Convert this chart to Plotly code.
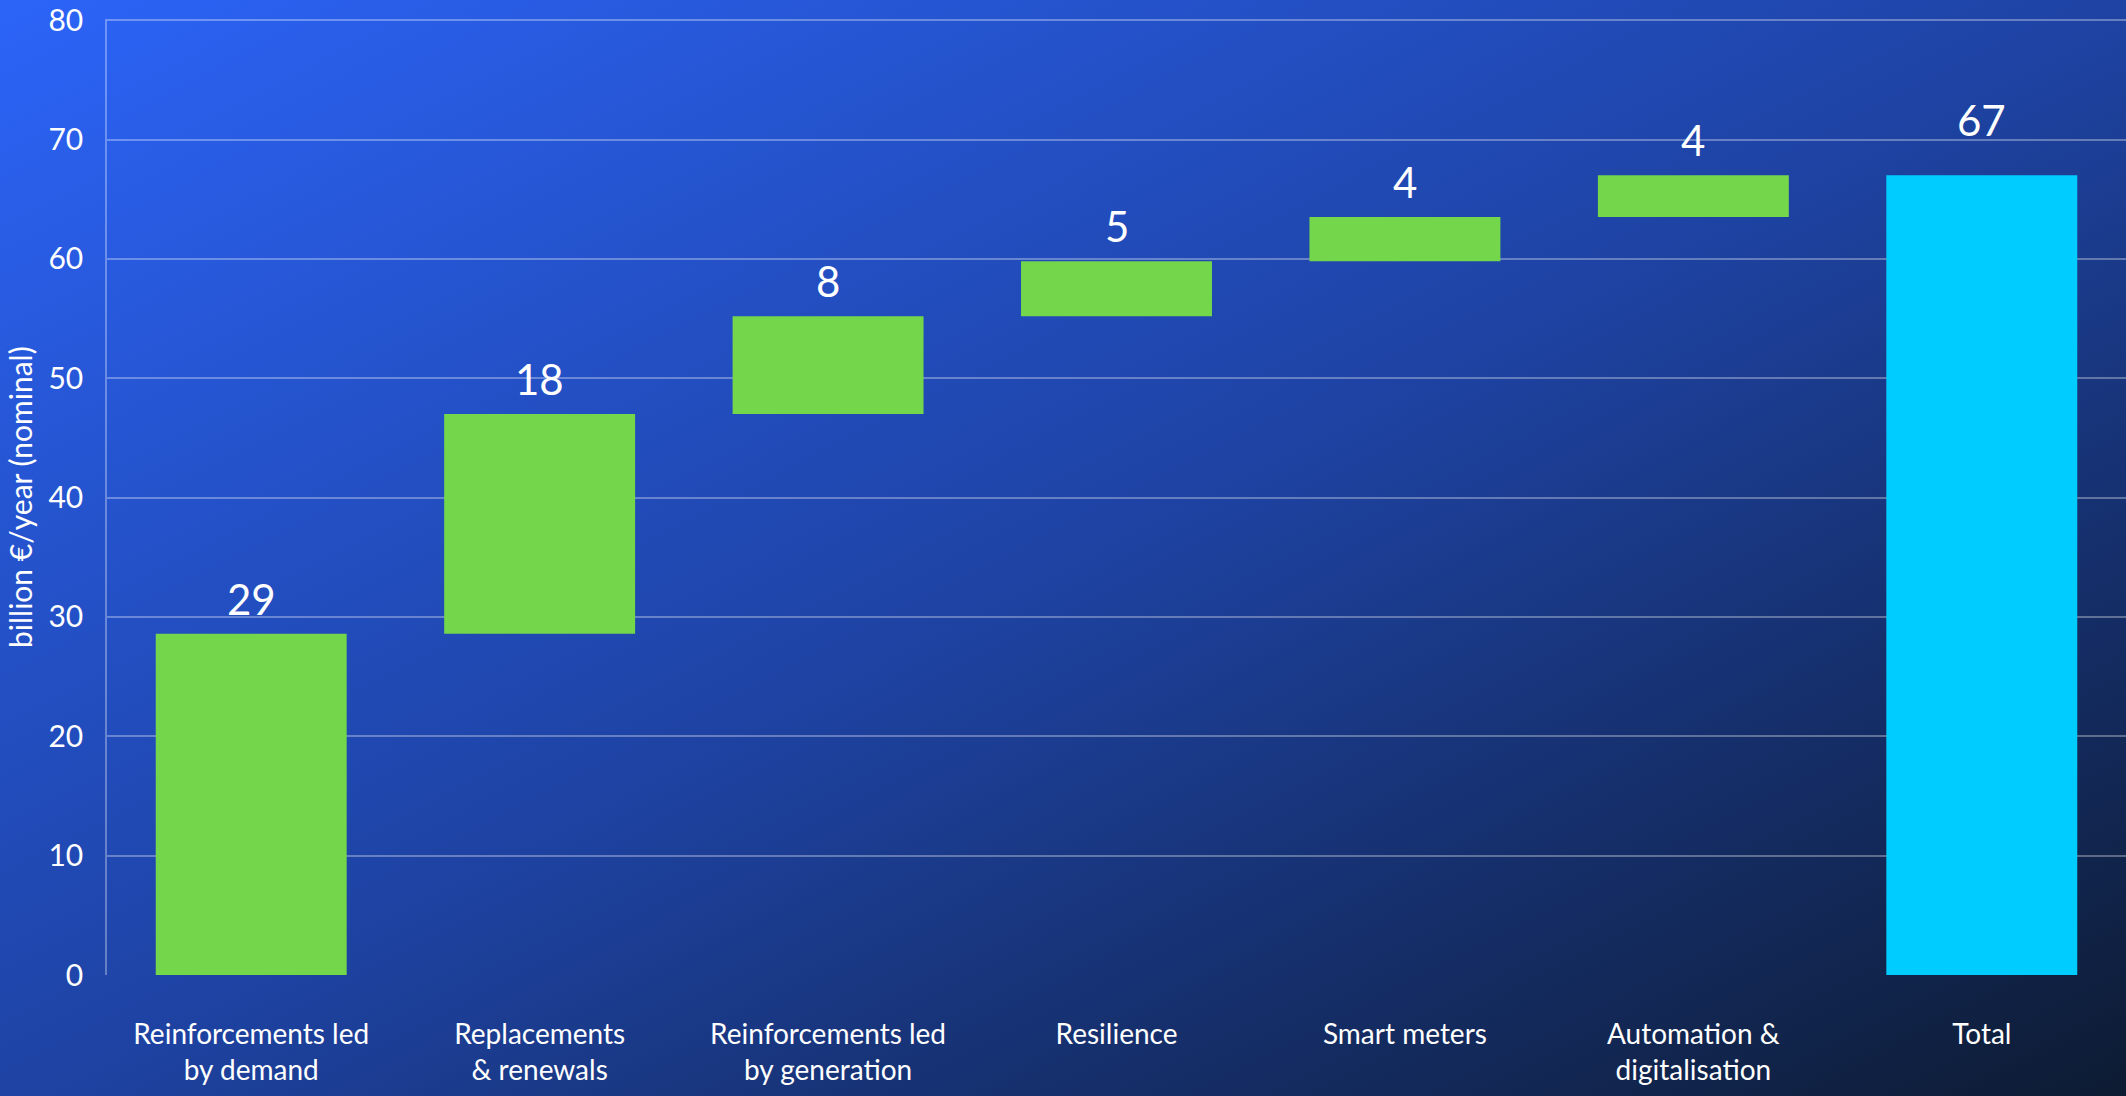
import base64
import numpy as np
import plotly.graph_objects as go

# Annual distribution-grid investment need, billion EUR per year (nominal)
categories = [
    "Reinforcements led<br>by demand",
    "Replacements<br>& renewals",
    "Reinforcements led<br>by generation",
    "Resilience",
    "Smart meters",
    "Automation &<br>digitalisation",
    "Total",
]
increments = [28.6, 18.4, 8.2, 4.6, 3.7, 3.5]
y_ticks = [0, 10, 20, 30, 40, 50, 60, 70, 80]

W, H = 2126, 1096
M_L, M_R, M_T, M_B = 107, 0, 19, 121
PW, PH = W - M_L - M_R, H - M_T - M_B
Y_MAX = 80.1

FONT = "Lato"
GREEN = "#73D64B"
CYAN = "#00CCFF"
GRID = "rgba(255,255,255,0.32)"

# diagonal background gradient as an inline SVG image
svg = (
    f"<svg xmlns='http://www.w3.org/2000/svg' width='{W}' height='{H}' "
    f"viewBox='0 0 {W} {H}' preserveAspectRatio='none'>"
    "<defs><linearGradient id='g' x1='0' y1='0' x2='1' y2='1'>"
    "<stop offset='0' stop-color='#2c64f8'/>"
    "<stop offset='0.5' stop-color='#1e43a4'/>"
    "<stop offset='1' stop-color='#0d1b32'/>"
    "</linearGradient></defs>"
    f"<rect width='{W}' height='{H}' fill='url(#g)'/></svg>"
)
bg_src = "data:image/svg+xml;base64," + base64.b64encode(svg.encode()).decode()

measures = ["relative"] * len(increments) + ["total"]
values = increments + [0]
tops = list(np.cumsum(increments))
total = tops[-1]

fig = go.Figure()
fig.add_trace(go.Waterfall(
    x=categories,
    y=values,
    measure=measures,
    increasing=dict(marker=dict(color=GREEN, line=dict(width=0))),
    totals=dict(marker=dict(color=CYAN, line=dict(width=0))),
    connector=dict(visible=False),
    textposition="none",
    hoverinfo="skip",
))

# value labels above each bar
label_tops = tops + [total]
label_vals = increments + [total]
for i, (cat, top, val) in enumerate(zip(categories, label_tops, label_vals)):
    fig.add_annotation(
        x=cat, y=top, xref="x", yref="y",
        text=f"{val:.0f}", showarrow=False,
        yanchor="bottom", yshift=8 if i < len(categories) - 1 else 28,
        font=dict(family=FONT, size=42, color="white"),
    )

# y-axis title
fig.add_annotation(
    x=-(M_L - 20) / PW, y=0.5, xref="paper", yref="paper",
    text="billion €/year (nominal)", textangle=-90, showarrow=False,
    xanchor="center", yanchor="middle",
    font=dict(family=FONT, size=30, color="white"),
)

fig.add_layout_image(
    source=bg_src, xref="paper", yref="paper",
    x=-M_L / PW, y=1 + M_T / PH, sizex=W / PW, sizey=H / PH,
    xanchor="left", yanchor="top", sizing="stretch", layer="below",
)

fig.update_layout(
    width=W, height=H,
    margin=dict(l=M_L, r=M_R, t=M_T, b=M_B, pad=0),
    paper_bgcolor="#1e43a4",
    plot_bgcolor="rgba(0,0,0,0)",
    showlegend=False,
    waterfallgap=0.338,
    font=dict(family=FONT, color="white"),
)
fig.update_xaxes(
    showgrid=False, showline=False, zeroline=False, ticks="",
    tickfont=dict(family=FONT, size=28, color="white"),
    ticklabelstandoff=40, automargin=False,
)
fig.update_yaxes(
    range=[0, Y_MAX], tickvals=y_ticks,
    showgrid=True, gridcolor=GRID, gridwidth=1.5,
    zeroline=False, showline=True, linecolor=GRID, linewidth=1.5,
    ticks="", ticklabelstandoff=16, ticklabeloverflow="allow",
    automargin=False,
    tickfont=dict(family=FONT, size=30, color="white"),
)

fig.write_html("out.html", config={"displayModeBar": False})
